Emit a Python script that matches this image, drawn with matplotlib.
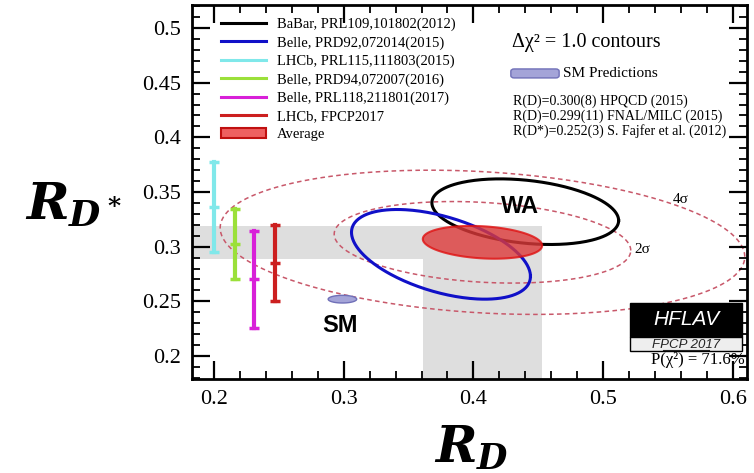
import matplotlib
matplotlib.use("Agg")
import matplotlib.pyplot as plt
from matplotlib.patches import Rectangle, Polygon, FancyBboxPatch
from matplotlib.lines import Line2D
from matplotlib.ticker import MultipleLocator, FuncFormatter
import numpy as np

plt.rcParams['font.family'] = ['Liberation Serif', 'DejaVu Serif']
plt.rcParams['mathtext.fontset'] = 'custom'
plt.rcParams['mathtext.it'] = 'DejaVu Serif:italic:bold'
plt.rcParams['mathtext.rm'] = 'DejaVu Serif:bold'

# measurements shown as Delta chi^2 = 1 contours: (R_D, err, R_D*, err, rho)
contour_names = ['BaBar, PRL109,101802(2012)', 'Belle, PRD92,072014(2015)']
contour_colors = ['black', '#1010c8']
contour_rd = [0.440, 0.375]
contour_rd_err = [0.072, 0.069]
contour_rds = [0.332, 0.293]
contour_rds_err = [0.030, 0.041]
contour_rho = [-0.27, -0.49]

# R_D* only measurements
bar_names = ['LHCb, PRL115,111803(2015)', 'Belle, PRD94,072007(2016)',
             'Belle, PRL118,211801(2017)', 'LHCb, FPCP2017']
bar_colors = ['#80e8ea', '#9be03a', '#d820d8', '#cc1f1f']
bar_x = [0.200, 0.216, 0.231, 0.247]
bar_val = [0.336, 0.302, 0.270, 0.285]
bar_err = [0.041, 0.032, 0.044, 0.035]

# world average
wa_rd, wa_rd_err = 0.407, 0.046
wa_rds, wa_rds_err = 0.304, 0.015
wa_rho = -0.20
sigma_levels = [2.486, 4.397]
sigma_labels = ['2σ', '4σ']

# SM prediction
sm_rd, sm_rd_err = 0.299, 0.011
sm_rds, sm_rds_err = 0.252, 0.0035


def ellipse(cx, sx, cy, sy, rho, k=1.0):
    t = np.linspace(0, 2 * np.pi, 300)
    x = cx + k * sx * np.cos(t)
    y = cy + k * sy * (rho * np.cos(t) + np.sqrt(1 - rho ** 2) * np.sin(t))
    return x, y


fig = plt.figure(figsize=(7.54, 4.73), dpi=100)
ax = fig.add_axes([192 / 754, 94 / 473, 555 / 754, 374 / 473])
ax.set_xlim(0.183, 0.611)
ax.set_ylim(0.179, 0.521)

# gray bands of the average
ax.add_patch(Rectangle((0.17, wa_rds - wa_rds_err), wa_rd + wa_rd_err - 0.17, 2 * wa_rds_err,
                       facecolor='#dedede', edgecolor='none', zorder=0))
ax.add_patch(Rectangle((wa_rd - wa_rd_err, 0.15), 2 * wa_rd_err, wa_rds + wa_rds_err - 0.15,
                       facecolor='#dedede', edgecolor='none', zorder=0))

# 2 and 4 sigma contours
for k in sigma_levels:
    x, y = ellipse(wa_rd, wa_rd_err, wa_rds, wa_rds_err, wa_rho, k)
    ax.plot(x, y, color='#c8586a', lw=1.1, ls=(0, (3, 2.2)), zorder=1)
ax.text(0.524, 0.2975, sigma_labels[0], fontsize=11, ha='left', va='center')
ax.text(0.554, 0.3435, sigma_labels[1], fontsize=11, ha='left', va='center')

# experiments
for i in range(len(contour_names)):
    x, y = ellipse(contour_rd[i], contour_rd_err[i], contour_rds[i], contour_rds_err[i],
                   contour_rho[i])
    ax.plot(x, y, color=contour_colors[i], lw=2.2, zorder=3)

for i in range(len(bar_names)):
    lo = bar_val[i] - bar_err[i]
    hi = bar_val[i] + bar_err[i]
    ax.plot([bar_x[i], bar_x[i]], [lo, hi], color=bar_colors[i], lw=3, zorder=3)
    ax.plot([bar_x[i]] * 3, [lo, bar_val[i], hi], color=bar_colors[i], marker='_',
            ms=7, mew=2.5, ls='none', zorder=3)

# world average
x, y = ellipse(wa_rd, wa_rd_err, wa_rds, wa_rds_err, wa_rho)
ax.add_patch(Polygon(np.column_stack([x, y]), closed=True, facecolor='#dd3a3a',
                     edgecolor='#e01010', lw=1.5, alpha=0.8, zorder=4))
ax.text(0.436, 0.3365, 'WA', fontsize=17, fontweight='bold', family='Liberation Sans',
        ha='center', va='center', zorder=6)

# SM
x, y = ellipse(sm_rd, sm_rd_err, sm_rds, sm_rds_err, 0.0)
ax.add_patch(Polygon(np.column_stack([x, y]), closed=True, facecolor='#a4a4d8',
                     edgecolor='#7070b8', lw=1, zorder=4))
ax.text(0.297, 0.2275, 'SM', fontsize=17, fontweight='bold', family='Liberation Sans',
        ha='center', va='center', zorder=6)

# legend
handles = [Line2D([], [], color=c, lw=2.2) for c in contour_colors]
handles += [Line2D([], [], color=c, lw=2.2) for c in bar_colors]
handles.append(FancyBboxPatch((0, 0), 1, 1, boxstyle='round,pad=0.1', facecolor='#ee6060',
                              edgecolor='#c01010', lw=1.5))
labels = contour_names + bar_names + ['Average']
ax.legend(handles, labels, loc='upper left', bbox_to_anchor=(0.052, 0.966), frameon=False,
          fontsize=10.5, handlelength=3.1, handletextpad=0.75, labelspacing=0.34,
          borderpad=0, borderaxespad=0)

# right text block
ax.text(0.5765, 0.9, 'Δχ² = 1.0 contours', transform=ax.transAxes, fontsize=14.5,
        ha='left', va='center')
ax.add_patch(FancyBboxPatch((0.5805, 0.811), 0.075, 0.012, boxstyle='round,pad=0.006',
                            transform=ax.transAxes, facecolor='#a4a4d8', edgecolor='#7070b8',
                            lw=1))
ax.text(0.668, 0.8175, 'SM Predictions', transform=ax.transAxes, fontsize=11,
        ha='left', va='center')
sm_lines = ['R(D)=0.300(8) HPQCD (2015)', 'R(D)=0.299(11) FNAL/MILC (2015)',
            'R(D*)=0.252(3) S. Fajfer et al. (2012)']
for j, s in enumerate(sm_lines):
    ax.text(0.5785, 0.742 - j * 0.04, s, transform=ax.transAxes, fontsize=10,
            ha='left', va='center')

# HFLAV logo
ax.add_patch(Rectangle((0.5207, 0.2175), 0.0865, 0.0311, facecolor='black',
                       edgecolor='black', lw=1, zorder=7))
ax.add_patch(Rectangle((0.5207, 0.2047), 0.0865, 0.0128, facecolor='#eeeeee',
                       edgecolor='black', lw=1, zorder=7))
ax.text(0.564, 0.2335, 'HFLAV', color='white', fontsize=15, style='italic',
        family='Liberation Sans', ha='center', va='center', zorder=8)
ax.text(0.564, 0.2105, 'FPCP 2017', color='#222222', fontsize=9.5, style='italic',
        family='Liberation Sans', ha='center', va='center', zorder=8)
ax.plot([0.5465, 0.582], [0.2055, 0.2055], color='#222222', lw=0.8, zorder=8)
ax.text(0.6095, 0.1965, 'P(χ²) = 71.6%', fontsize=12, ha='right', va='center', zorder=8)

# axes styling
for sp in ax.spines.values():
    sp.set_linewidth(2)
ax.xaxis.set_major_locator(MultipleLocator(0.1))
ax.xaxis.set_minor_locator(MultipleLocator(0.02))
ax.yaxis.set_major_locator(MultipleLocator(0.05))
ax.yaxis.set_minor_locator(MultipleLocator(0.01))
fmt = FuncFormatter(lambda v, p: '%g' % round(v, 3))
ax.xaxis.set_major_formatter(fmt)
ax.yaxis.set_major_formatter(fmt)
ax.tick_params(which='both', direction='in', top=True, right=True, labelsize=16)
ax.tick_params(which='major', length=13, width=1.6, pad=8)
ax.tick_params(which='minor', length=6, width=1.3)

fig.text(0.625, 0.052, r'$R_D$', fontsize=36, ha='center', va='center')
fig.text(0.098, 0.565, r'$R_{D^*}$', fontsize=37, ha='center', va='center')

fig.savefig('out.png', dpi=100)
